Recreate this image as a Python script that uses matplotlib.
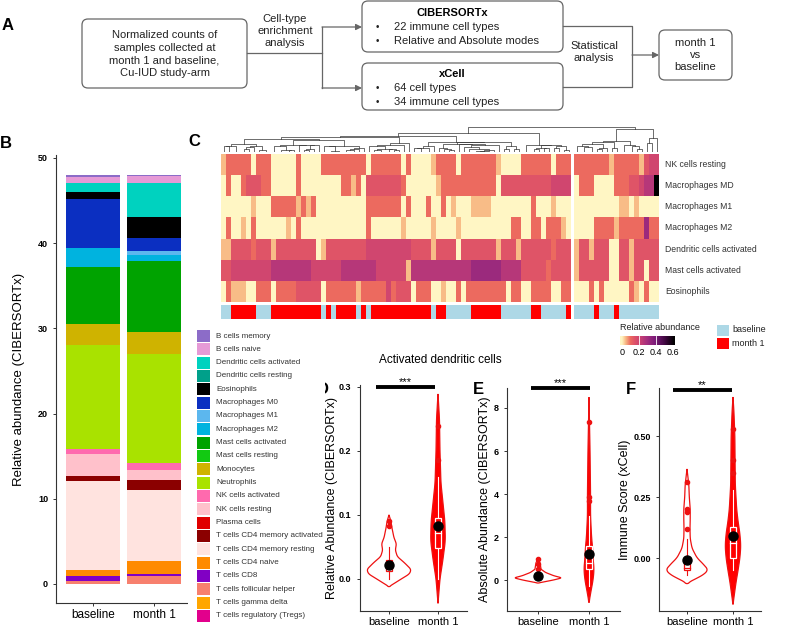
import numpy as np
import matplotlib
matplotlib.use("Agg")
import matplotlib.pyplot as plt
from matplotlib.patches import FancyBboxPatch, Rectangle
from matplotlib.colors import LinearSegmentedColormap

plt.rcParams['font.family'] = ['Liberation Sans', 'DejaVu Sans']

W, H = 787, 629

# ---------------- B: stacked CIBERSORTx abundances (legend order = top of stack first)
cell_types = ["B cells memory", "B cells naive", "Dendritic cells activated", "Dendritic cells resting",
              "Eosinophils", "Macrophages M0", "Macrophages M1", "Macrophages M2",
              "Mast cells activated", "Mast cells resting", "Monocytes", "Neutrophils",
              "NK cells activated", "NK cells resting", "Plasma cells",
              "T cells CD4 memory activated", "T cells CD4 memory resting", "T cells CD4 naive",
              "T cells CD8", "T cells follicular helper", "T cells gamma delta",
              "T cells regulatory (Tregs)"]
cell_colors = ["#8c6cc8", "#e69ad6", "#00d2bf", "#00a08a", "#000000", "#0b2fc1", "#5cb7ee", "#00b3df",
               "#00a300", "#12c912", "#cfb300", "#a9e200", "#ff6aae", "#ffc1cb", "#e00000",
               "#8b0000", "#ffe3df", "#ff8a00", "#8100c4", "#f7806e", "#ffa600", "#e2008c"]
groups = ["baseline", "month 1"]
baseline_abund = [0.23, 0.7, 1.1, 0, 0.87, 5.66, 0, 2.27, 6.73, 0, 2.47, 12.2,
                  0.6, 2.5, 0, 0.65, 10.37, 0.78, 0.59, 0.31, 0, 0]
month1_abund = [0.15, 0.78, 4.03, 0, 2.43, 1.56, 0.4, 0.78, 8.29, 0, 2.59, 12.79,
                0.78, 1.17, 0, 1.18, 8.41, 1.49, 0.27, 0.9, 0, 0]

# ---------------- C: heatmap, one char per sample (levels below)
hm_rows = ["NK cells resting", "Macrophages MD", "Macrophages M1", "Macrophages M2",
           "Dendritic cells activated", "Mast cells activated", "Eosinophils"]
level_values = {"0": 0.0, "1": 0.045, "2": 0.1, "3": 0.15, "4": 0.2, "5": 0.26, "6": 0.32, "9": 0.62}
hm_left = [
    "1 22222 0 222 00000 2 0000 222222222 0 222222 0 2 0000 1 2222 0 2222222 1 0000 222222 0 222",
    "0 2 00 2 333 22 00000 2 00000000 22 1 2 0 3333333 2 000000 1 22222222222 0 3333333333 4444",
    "000000 1 000 22222 1 2 1 2 0000000000 2222222 0 2 000 2 00 2 0 1 000 1111 00000000 2 000 1 000",
    "0 2 00 1 0 2 000000 1 0 2 0000000000000 2 000000 1 00000 1 0000 1 0000000000 22 00 22 0 222 1 0",
    "11 3333 2 333 1 33333333 0 1 33333333 444444 444 3333 1 3333 0 3333333 1 333 1 333333 2 333",
    "33 44444444 55555555 444444 5555555 4444 44 1 555555555555 666666 5555 3333323333",
    "0 2 111 00 222 0 2222 33333 0 222222 1 22222 4 2 333 0 222 00 1 00 2 0 22222222 0 22 00 2222 00 22",
]
hm_right = [
    "2222222 1 22222 1 344",
    "0 222 0000 222 33 45 5 9",
    "000000000 11 0 1 0000",
    "0000 2222 1 22222 6 22",
    "1 33 1 333 00 33 1 33333",
    "1 333333 00 33 1 33 0 33",
    "000 2 0 2 00000 2 1 0 2 00",
]
# b = baseline, m = month 1
group_left = "bb mmmmm bbb mmmmmmmmmm b m b mmmm b m b mmmmmmmmmmmm b mm bbbbb mmmmmm bbbbbb mm bbbbb m"
group_right = "bbbb m bbb m bbbbbbbb"
group_colors = {"b": "#add8e6", "m": "#ff0000"}

# ---------------- D/E/F: violin outlines (y, half width) and box stats (q1, med, q3, lo, hi)
d_base_y = [-0.012, 0.0, 0.008, 0.015, 0.025, 0.035, 0.045, 0.055, 0.065, 0.08, 0.09, 0.1]
d_base_w = [0.0, 0.25, 0.42, 0.45, 0.32, 0.17, 0.13, 0.15, 0.1, 0.06, 0.04, 0.0]
d_m1_y = [-0.038, 0.0, 0.03, 0.06, 0.09, 0.12, 0.15, 0.2, 0.25, 0.289]
d_m1_w = [0.0, 0.04, 0.1, 0.15, 0.14, 0.1, 0.06, 0.04, 0.03, 0.0]
d_box = [[0.012, 0.02, 0.03, 0.0, 0.05], [0.048, 0.072, 0.095, 0.0, 0.16]]
d_mean = [0.022, 0.083]
d_out = [[0.083, 0.09], [0.186, 0.239]]

e_base_y = [-0.14, 0.0, 0.1, 0.2, 0.35, 0.5, 0.8, 1.0]
e_base_w = [0.0, 0.3, 0.47, 0.31, 0.15, 0.06, 0.04, 0.0]
e_m1_y = [-1.05, -0.5, 0.0, 0.5, 1.0, 1.5, 2.0, 3.0, 4.0, 6.0, 8.5]
e_m1_w = [0.0, 0.04, 0.08, 0.1, 0.08, 0.07, 0.05, 0.03, 0.03, 0.02, 0.0]
e_box = [[0.08, 0.12, 0.25, 0.0, 0.35], [0.5, 0.79, 1.6, -0.3, 3.0]]
e_mean = [0.19, 1.2]
e_out = [[0.5, 0.74, 0.98], [3.67, 3.86, 7.35]]

f_base_y = [-0.105, -0.09, -0.077, -0.05, -0.02, 0.0, 0.04, 0.08, 0.12, 0.16, 0.2, 0.25, 0.3, 0.365]
f_base_w = [0.0, 0.12, 0.29, 0.47, 0.33, 0.22, 0.11, 0.07, 0.065, 0.07, 0.07, 0.05, 0.04, 0.0]
f_m1_y = [-0.19, -0.1, -0.05, 0.0, 0.05, 0.1, 0.15, 0.2, 0.3, 0.4, 0.5, 0.6, 0.66]
f_m1_w = [0.0, 0.065, 0.11, 0.15, 0.17, 0.15, 0.11, 0.08, 0.05, 0.045, 0.04, 0.02, 0.0]
f_box = [[-0.05, -0.04, 0.0, -0.07, 0.08], [0.0, 0.06, 0.127, -0.05, 0.28]]
f_mean = [-0.008, 0.09]
f_out = [[0.12, 0.19, 0.2, 0.31], [0.35, 0.40, 0.53]]

fig = plt.figure(figsize=(W / 100, H / 100), dpi=100)


def px_axes(x0, y0, x1, y1):
    return fig.add_axes([x0 / W, 1 - y1 / H, (x1 - x0) / W, (y1 - y0) / H])


def clean(ax):
    for s in ["top", "right"]:
        ax.spines[s].set_visible(False)
    for s in ["left", "bottom"]:
        ax.spines[s].set_color("#333333")
        ax.spines[s].set_linewidth(0.8)
    ax.tick_params(length=2.5, width=0.7, color="#333333", labelsize=6.5)
    ax.tick_params(axis="x", pad=1.5)
    for t in ax.get_yticklabels():
        t.set_fontweight("bold")


# ---------------- panel B
axb = px_axes(56.4, 155, 190.6, 603)
cum = np.zeros(2)
for i in range(len(cell_types) - 1, -1, -1):
    v = np.array([baseline_abund[i], month1_abund[i]])
    axb.bar([1, 2], v, bottom=cum, width=0.9, color=cell_colors[i], linewidth=0)
    cum += v
axb.set_xlim(0.4, 2.6)
axb.set_ylim(-2.23, 50.35)
axb.set_yticks([0, 10, 20, 30, 40, 50])
axb.set_xticks([1, 2])
axb.set_xticklabels(groups, fontsize=8.5)
clean(axb)
axb.tick_params(axis="x", labelsize=8.5)
axb.set_ylabel("Relative abundance (CIBERSORTx)", fontsize=9.5)
axb.yaxis.set_label_coords((25 - 56.4) / 134.2, 0.5)

# ---------------- panel C heatmap
cmap = LinearSegmentedColormap.from_list("ra", [
    (0.0, "#fff6c4"), (0.065, "#f9c18a"), (0.161, "#ec6a5f"), (0.242, "#df5367"),
    (0.355, "#c94073"), (0.484, "#a42e7e"), (0.645, "#7a1a79"), (0.839, "#3d063d"), (1.0, "#000000")])
VMAX = 0.62
mat_l = np.array([[level_values[c] for c in r.replace(" ", "")] for r in hm_left])
mat_r = np.array([[level_values[c] for c in r.replace(" ", "")] for r in hm_right])
nl, nr = mat_l.shape[1], mat_r.shape[1]
GAP = 0.6
xl = np.arange(nl + 1)
xr = nl + GAP + np.arange(nr + 1)
XMAX = nl + GAP + nr

axh = px_axes(221, 154, 659, 302)
axh.pcolormesh(xl, np.arange(len(hm_rows) + 1), mat_l, cmap=cmap, vmin=0, vmax=VMAX)
axh.pcolormesh(xr, np.arange(len(hm_rows) + 1), mat_r, cmap=cmap, vmin=0, vmax=VMAX)
axh.set_xlim(0, XMAX)
axh.set_ylim(len(hm_rows), 0)
axh.axis("off")
for i, name in enumerate(hm_rows):
    axh.text(XMAX + 1.2, i + 0.5, name, fontsize=6.2, color="#333333", va="center", ha="left")

axa = px_axes(221, 305, 659, 319)
gl = group_left.replace(" ", "")
gr = group_right.replace(" ", "")
for k, g in enumerate(gl):
    axa.add_patch(Rectangle((xl[k], 0), 1, 1, color=group_colors[g], lw=0))
for k, g in enumerate(gr):
    axa.add_patch(Rectangle((xr[k], 0), 1, 1, color=group_colors[g], lw=0))
axa.set_xlim(0, XMAX)
axa.set_ylim(0, 1)
axa.axis("off")

# dendrogram: adjacent ward-style merging keeps the column order
axd = px_axes(221, 126, 659, 152)


def draw_tree(ax, xs, mat):
    nodes = [[x, 0.0, mat[:, i].copy(), 1] for i, x in enumerate(xs)]
    while len(nodes) > 1:
        best, bi = None, 0
        for i in range(len(nodes) - 1):
            a, b = nodes[i], nodes[i + 1]
            d = np.sqrt(2.0 * a[3] * b[3] / (a[3] + b[3])) * np.linalg.norm(a[2] - b[2])
            if best is None or d < best:
                best, bi = d, i
        a, b = nodes[bi], nodes[bi + 1]
        h = max(best, a[1], b[1]) + 0.01
        ax.plot([a[0], a[0], b[0], b[0]], [a[1], h, h, b[1]], color="#333333", lw=0.5)
        n = a[3] + b[3]
        nodes[bi:bi + 2] = [[(a[0] + b[0]) / 2, h, (a[2] * a[3] + b[2] * b[3]) / n, n]]
    return nodes[0]


rl = draw_tree(axd, xl[:-1] + 0.5, mat_l)
rr = draw_tree(axd, xr[:-1] + 0.5, mat_r)
top = max(rl[1], rr[1]) * 1.12
axd.plot([rl[0], rl[0], rr[0], rr[0]], [rl[1], top, top, rr[1]], color="#333333", lw=0.5)
axd.set_xlim(0, XMAX)
axd.set_ylim(0, top * 1.02)
axd.axis("off")

# colour key
axk = px_axes(620, 336, 675, 345)
grad = np.linspace(-0.02, 0.63, 200)[None, :]
axk.imshow(grad, extent=[-0.02, 0.63, 0, 1], aspect="auto", cmap=cmap, vmin=0, vmax=VMAX)
for v in [0.2, 0.4]:
    axk.axvline(v, color="white", lw=0.6)
axk.set_xlim(-0.02, 0.63)
axk.set_yticks([])
axk.set_xticks([0, 0.2, 0.4, 0.6])
axk.set_xticklabels(["0", "0.2", "0.4", "0.6"], fontsize=6.5)
axk.tick_params(length=0, pad=2)
for s in axk.spines.values():
    s.set_visible(False)


# ---------------- panels D, E, F
def violin(ax, x, ys, ws, filled):
    yy = np.linspace(ys[0], ys[-1], 240)
    ww = np.interp(yy, ys, ws)
    ww = np.convolve(np.pad(ww, 6, mode="edge"), np.ones(13) / 13, mode="valid")
    ww[0] = ww[-1] = 0
    px = np.concatenate([x - ww, (x + ww)[::-1]])
    py = np.concatenate([yy, yy[::-1]])
    ax.fill(px, py, fc="#ff0000" if filled else "white", ec="#ee1111", lw=0.9, zorder=2)


def boxplot(ax, x, st, filled):
    q1, med, q3, lo, hi = st
    fc, ec = ("#ff0000", "white") if filled else ("white", "#ee1111")
    ax.plot([x, x], [lo, q1], color=ec, lw=0.8, zorder=3)
    ax.plot([x, x], [q3, hi], color=ec, lw=0.8, zorder=3)
    ax.add_patch(Rectangle((x - 0.06, q1), 0.12, q3 - q1, fc=fc, ec=ec, lw=0.9, zorder=3))
    ax.plot([x - 0.06, x + 0.06], [med, med], color=ec, lw=0.9, zorder=4)


def panel(rect, ylim, yticks, ytl, vio, boxes, means, outs, ylabel, labx, bar, stars):
    x0, y0, x1, y1 = rect
    ax = px_axes(x0, y0, x1, y1)
    for k, (ys, ws) in enumerate(vio):
        violin(ax, k + 1, ys, ws, k == 1)
        boxplot(ax, k + 1, boxes[k], k == 1)
        ax.plot([k + 1] * len(outs[k]), outs[k], "o", color="#ee1111", ms=3, zorder=5)
        ax.plot(k + 1, means[k], "o", color="black", ms=6.5, zorder=6)
    ax.plot(bar[:2], [bar[2], bar[2]], color="black", lw=2.8, clip_on=False, zorder=7,
            solid_capstyle="butt")
    ax.text((bar[0] + bar[1]) / 2, bar[2], stars, ha="center", va="bottom", fontsize=8,
            clip_on=False)
    ax.set_xlim(0.4, 2.6)
    ax.set_ylim(*ylim)
    ax.set_yticks(yticks)
    ax.set_yticklabels(ytl)
    ax.set_xticks([1, 2])
    ax.set_xticklabels(groups, fontsize=8)
    clean(ax)
    ax.tick_params(axis="x", labelsize=8)
    ax.set_ylabel(ylabel, fontsize=9)
    ax.yaxis.set_label_coords((labx - x0) / (x1 - x0), 0.5)
    return ax


panel((359.6, 385, 467.4, 611), (-0.05, 0.303), [0.0, 0.1, 0.2, 0.3], ["0.0", "0.1", "0.2", "0.3"],
      [(d_base_y, d_base_w), (d_m1_y, d_m1_w)], d_box, d_mean, d_out,
      "Relative Abundance (CIBERSORTx)", 338, (0.73, 1.94, 0.3), "***")
panel((507.4, 388, 619.6, 611), (-1.44, 8.93), [0, 2, 4, 6, 8], ["0", "2", "4", "6", "8"],
      [(e_base_y, e_base_w), (e_m1_y, e_m1_w)], e_box, e_mean, e_out,
      "Absolute Abundance (CIBERSORTx)", 491, (0.86, 2.02, 8.93), "***")
panel((659.4, 388, 760.6, 611), (-0.217, 0.697), [0.0, 0.25, 0.5], ["0.00", "0.25", "0.50"],
      [(f_base_y, f_base_w), (f_m1_y, f_m1_w)], f_box, f_mean, f_out,
      "Immune Score (xCell)", 631, (0.70, 1.98, 0.69), "**")

# ---------------- overlay: panel A flowchart, legends, labels
ov = px_axes(0, 0, W, H)
ov.set_xlim(0, W)
ov.set_ylim(H, 0)
ov.axis("off")
ov.patch.set_alpha(0)

GREY = "#666666"


def rbox(x0, y0, x1, y1):
    ov.add_patch(FancyBboxPatch((x0, y0), x1 - x0, y1 - y0, boxstyle="round,pad=0,rounding_size=6",
                                ec=GREY, fc="white", lw=0.9))


def arrow(x0, y0, x1, y1):
    ov.annotate("", xy=(x1, y1), xytext=(x0, y0),
                arrowprops=dict(arrowstyle="-|>", color=GREY, lw=0.9, mutation_scale=9,
                                shrinkA=0, shrinkB=0))


rbox(82, 19, 247, 88)
ov.text(164.5, 54, "Normalized counts of\nsamples collected at\nmonth 1 and baseline,\nCu-IUD study-arm",
        ha="center", va="center", fontsize=8, linespacing=1.3, color="#222222")
ov.plot([247, 322], [53, 53], color=GREY, lw=0.9)
ov.plot([322, 322], [27, 88], color=GREY, lw=0.9)
arrow(322, 27, 362, 27)
arrow(322, 88, 362, 88)
ov.text(285, 31, "Cell-type\nenrichment\nanalysis", ha="center", va="center", fontsize=8,
        linespacing=1.2, color="#222222")

rbox(362, 1, 563, 52)
ov.text(452, 13, "CIBERSORTx", ha="center", va="center", fontsize=8, fontweight="bold")
rbox(362, 63, 563, 110)
ov.text(452, 74, "xCell", ha="center", va="center", fontsize=8, fontweight="bold")
for y, s in [(27, "22 immune cell types"), (41, "Relative and Absolute modes"),
             (88, "64 cell types"), (102, "34 immune cell types")]:
    ov.text(377, y, "\u2022", ha="center", va="center", fontsize=7, color="#222222")
    ov.text(394, y, s, ha="left", va="center", fontsize=8, color="#222222")

ov.plot([563, 632, 632, 563], [26, 26, 87, 87], color=GREY, lw=0.9)
arrow(632, 55, 659, 55)
ov.text(594, 52, "Statistical\nanalysis", ha="center", va="center", fontsize=8,
        linespacing=1.2, color="#222222")
rbox(659, 30, 732, 80)
ov.text(695.5, 55, "month 1\nvs\nbaseline", ha="center", va="center", fontsize=8,
        linespacing=1.25, color="#222222")

for lab, x, y in [("A", 8, 26), ("B", 6, 143), ("C", 194, 141), ("E", 478, 390), ("F", 631, 390)]:
    ov.text(x, y, lab, ha="center", va="center", fontsize=12, fontweight="bold")
ov.text(329, 390, "D", ha="right", va="center", fontsize=12, fontweight="bold")
ov.add_patch(Rectangle((188, 328), 137, 294, fc="white", ec="none", zorder=3))

# legend of panel B
for i, (name, col) in enumerate(zip(cell_types, cell_colors)):
    y = 336 + i * 13.33
    ov.add_patch(Rectangle((197, y - 6), 13, 12, fc=col, ec="none", zorder=4))
    ov.text(216, y, name, ha="left", va="center", fontsize=5.8, color="#333333", zorder=4)

# heatmap legends
ov.text(620, 327, "Relative abundance", ha="left", va="center", fontsize=6.5, color="#222222")
for i, (g, name) in enumerate([("b", "baseline"), ("m", "month 1")]):
    y = 330 + i * 13.5
    ov.add_patch(Rectangle((717, y - 5.5), 11.5, 11, fc=group_colors[g], ec="none"))
    ov.text(732, y, name, ha="left", va="center", fontsize=6.5, color="#222222")

ov.text(440, 360, "Activated dendritic cells", ha="center", va="center", fontsize=8.5)

fig.savefig("out.png", dpi=100)
